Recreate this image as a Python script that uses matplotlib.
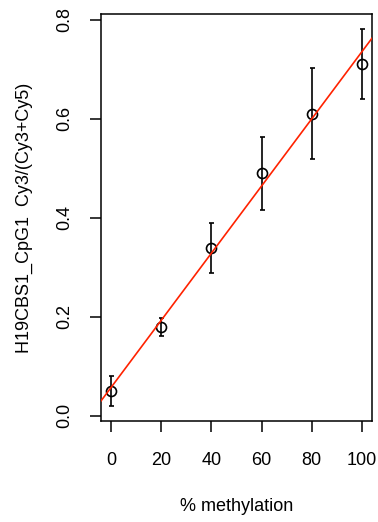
import numpy as np
import matplotlib
matplotlib.use("Agg")
import matplotlib.pyplot as plt

plt.rcParams['font.family'] = ['Liberation Sans', 'DejaVu Sans']

methylation = [0, 20, 40, 60, 80, 100]
ratio = [0.049, 0.179, 0.339, 0.490, 0.610, 0.711]
err = [0.030, 0.018, 0.051, 0.074, 0.092, 0.071]
x_ticks = [0, 20, 40, 60, 80, 100]
y_ticks = [0.0, 0.2, 0.4, 0.6, 0.8]

fig = plt.figure(figsize=(3.78, 5.22), dpi=100)
ax = fig.add_axes([101/378, 1 - 421/522, (372 - 101)/378, (421 - 14)/522])

ax.errorbar(methylation, ratio, yerr=err, fmt='none', ecolor='black',
            elinewidth=1.2, capsize=1.8, capthick=1.2, zorder=2)
ax.plot(methylation, ratio, linestyle='none', marker='o', markersize=7.2,
        markerfacecolor='none', markeredgecolor='black', markeredgewidth=1.2, zorder=3)

slope, intercept = np.polyfit(methylation, ratio, 1)
ax.axline((0, intercept), slope=slope, color='#ff2200', linewidth=1.2, zorder=4)

ax.set_xlim(-4, 104)
ax.set_ylim(-0.011, 0.812)
ax.set_xticks(x_ticks)
ax.set_xticklabels([str(v) for v in x_ticks])
ax.set_yticks(y_ticks)
ax.set_yticklabels([f"{v:.1f}" for v in y_ticks], rotation=90, va='center')

ax.tick_params(axis='both', direction='out', length=8, width=1.1, labelsize=13,
               colors='black')
ax.tick_params(axis='x', pad=14)
ax.tick_params(axis='y', pad=12)
for s in ax.spines.values():
    s.set_linewidth(1.1)
    s.set_color('black')

ax.set_xlabel('% methylation', fontsize=13, labelpad=21)
ax.set_ylabel('H19CBS1_CpG1  Cy3/(Cy3+Cy5)', fontsize=13, labelpad=17)

fig.savefig('out.png', dpi=100)
